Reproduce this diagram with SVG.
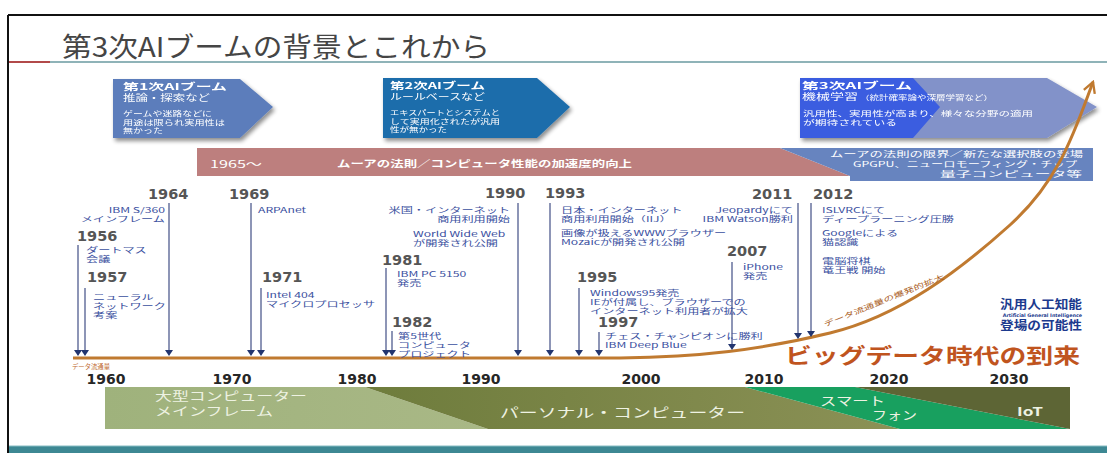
<svg xmlns="http://www.w3.org/2000/svg" width="1107" height="453" viewBox="0 0 1107 453">
<style>
.jp{font-family:"Noto Sans CJK JP","Noto Sans",sans-serif}
.wt{fill:#ffffff}
.ev{font-family:"Noto Sans CJK JP","Noto Sans",sans-serif;font-size:7.6px;fill:#3a4fa0}
.yr{font-family:"DejaVu Sans",sans-serif;font-weight:bold;font-size:14.5px;fill:#555555}
.ax{font-family:"DejaVu Sans",sans-serif;font-weight:bold;font-size:14px;fill:#262626;text-anchor:middle}
.vl{stroke:#8d95b6;stroke-width:2;fill:none;marker-end:url(#tri)}
.bt{font-family:"Noto Sans CJK JP","Noto Sans",sans-serif;fill:#eef2e2}
</style>
<defs>
<marker id="tri" viewBox="0 0 8 6" refX="4" refY="1" markerWidth="8" markerHeight="6" markerUnits="userSpaceOnUse" orient="0">
<path d="M0,0 L8,0 L4,6 Z" fill="#22356f"/>
</marker>
<marker id="oarr" viewBox="0 0 12 12" refX="10" refY="6" markerWidth="14" markerHeight="14" markerUnits="userSpaceOnUse" orient="auto">
<path d="M1,1 L10,6 L1,11" fill="none" stroke="#c07a30" stroke-width="2"/>
</marker>
<filter id="sh" x="-10%" y="-10%" width="130%" height="130%">
<feGaussianBlur in="SourceAlpha" stdDeviation="2"/>
<feOffset dx="2" dy="3"/>
<feComponentTransfer><feFuncA type="linear" slope="0.45"/></feComponentTransfer>
<feMerge><feMergeNode/><feMergeNode in="SourceGraphic"/></feMerge>
</filter>
<linearGradient id="pcg" x1="0" x2="1" y1="0" y2="0">
<stop offset="0" stop-color="#6e7c3c"/>
<stop offset="1" stop-color="#8b9156"/>
</linearGradient>
<linearGradient id="mfg" x1="0" x2="1" y1="0" y2="0">
<stop offset="0" stop-color="#9fb27c"/>
<stop offset="1" stop-color="#a9b886"/>
</linearGradient>
</defs>

<rect width="1107" height="453" fill="#ffffff"/>

<g id="frame">
<line x1="8" y1="15" x2="1107" y2="15" stroke="#111" stroke-width="2"/>
<line x1="8" y1="15" x2="8" y2="453" stroke="#111" stroke-width="2"/>
<line x1="9" y1="62" x2="50" y2="62" stroke="#b24a4a" stroke-width="2"/>
<line x1="50" y1="62" x2="1107" y2="62" stroke="#8fb3b8" stroke-width="2"/>
<rect x="9" y="446" width="1098" height="7" fill="#3d8893"/>
<line x1="9" y1="446" x2="1107" y2="446" stroke="#86bcc3" stroke-width="1"/>
</g>

<g id="title">
<text class="jp" x="62" y="57" font-size="27" fill="#454545" textLength="428" lengthAdjust="spacingAndGlyphs">第3次AIブームの背景とこれから</text>
</g>

<g id="boom1" filter="url(#sh)">
<polygon points="113,79 240,79 273,107 240,138 113,138" fill="#5b7dbb"/>
<text class="jp wt" x="123" y="90" font-size="9.5" font-weight="bold" textLength="104" lengthAdjust="spacingAndGlyphs">第1次AIブーム</text>
<text class="jp wt" x="123" y="101" font-size="9" textLength="87" lengthAdjust="spacingAndGlyphs">推論・探索など</text>
<text class="jp wt" x="123" y="116" font-size="7" textLength="89" lengthAdjust="spacingAndGlyphs">ゲームや迷路などに</text>
<text class="jp wt" x="123" y="124.5" font-size="7" textLength="102" lengthAdjust="spacingAndGlyphs">用途は限られ実用性は</text>
<text class="jp wt" x="123" y="133" font-size="7" textLength="40" lengthAdjust="spacingAndGlyphs">無かった</text>
</g>

<g id="boom2" filter="url(#sh)">
<polygon points="383,78 537,78 570,107 537,138 383,138" fill="#1f6dab"/>
<text class="jp wt" x="390" y="89" font-size="9.5" font-weight="bold" textLength="95" lengthAdjust="spacingAndGlyphs">第2次AIブーム</text>
<text class="jp wt" x="390" y="100" font-size="9" textLength="95" lengthAdjust="spacingAndGlyphs">ルールベースなど</text>
<text class="jp wt" x="390" y="115" font-size="7" textLength="110" lengthAdjust="spacingAndGlyphs">エキスパートとシステムと</text>
<text class="jp wt" x="390" y="123.5" font-size="7" textLength="110" lengthAdjust="spacingAndGlyphs">して実用化されたが汎用</text>
<text class="jp wt" x="390" y="132" font-size="7" textLength="57" lengthAdjust="spacingAndGlyphs">性が無かった</text>
</g>

<g id="boom3" filter="url(#sh)">
<polygon points="800,78 1047,78 1097,107 1047,138 800,138" fill="#8292c9"/>
<polygon points="800,78 913,78 940,107 913,138 800,138" fill="#3a5de0"/>
<text class="jp wt" x="802" y="89" font-size="9.5" font-weight="bold" textLength="110" lengthAdjust="spacingAndGlyphs">第3次AIブーム</text>
<text class="jp wt" x="802" y="100" font-size="9" textLength="56" lengthAdjust="spacingAndGlyphs">機械学習</text>
<text class="jp wt" x="860" y="99.5" font-size="6.5" textLength="133" lengthAdjust="spacingAndGlyphs">（統計確率論や深層学習など）</text>
<text class="jp wt" x="803" y="116" font-size="7" textLength="230" lengthAdjust="spacingAndGlyphs">汎用性、実用性が高まり、様々な分野の適用</text>
<text class="jp wt" x="803" y="124.5" font-size="7" textLength="94" lengthAdjust="spacingAndGlyphs">が期待されている</text>
</g>

<g id="moore">
<polygon points="197,148 780,148 850,176 197,176" fill="#bd7f7e"/>
<text class="jp wt" x="210" y="168" font-size="10" textLength="52" lengthAdjust="spacingAndGlyphs">1965〜</text>
<text class="jp wt" x="337" y="167" font-size="9.5" font-weight="bold" textLength="295" lengthAdjust="spacingAndGlyphs">ムーアの法則／コンピュータ性能の加速度的向上</text>
</g>

<g id="moore-limit">
<polygon points="780,148 1093,148 1093,181 850,181 850,176" fill="#6784bf"/>
<text class="jp wt" x="830" y="157" font-size="7.5" textLength="253" lengthAdjust="spacingAndGlyphs">ムーアの法則の限界／新たな選択肢の登場</text>
<text class="jp wt" x="853" y="167" font-size="7.5" textLength="224" lengthAdjust="spacingAndGlyphs">GPGPU、ニューロモーフィング・チップ</text>
<text class="jp wt" x="940" y="177" font-size="7.5" textLength="142" lengthAdjust="spacingAndGlyphs">量子コンピュータ等</text>
</g>

<g id="eras">
<polygon points="105,387 365,387 488,429 105,429" fill="url(#mfg)"/>
<polygon points="365,387 745,387 900,429 488,429" fill="url(#pcg)"/>
<polygon points="745,387 855,387 1070,429 900,429" fill="#18a05f"/>
<polygon points="855,387 1070,387 1070,429" fill="#5d6535"/>
<text class="bt" x="155" y="401" font-size="12" textLength="152" lengthAdjust="spacingAndGlyphs">大型コンピューター</text>
<text class="bt" x="155" y="416" font-size="12" textLength="118" lengthAdjust="spacingAndGlyphs">メインフレーム</text>
<text class="bt" x="500" y="417" font-size="13" textLength="245" lengthAdjust="spacingAndGlyphs">パーソナル・コンピューター</text>
<text class="bt" x="820" y="406" font-size="12" textLength="65" lengthAdjust="spacingAndGlyphs">スマート</text>
<text class="bt" x="872" y="420" font-size="12" textLength="45" lengthAdjust="spacingAndGlyphs">フォン</text>
<text class="bt" x="1017" y="416" font-size="12" font-weight="bold" textLength="26" lengthAdjust="spacingAndGlyphs">IoT</text>
</g>

<g id="connectors">
<path d="M 73 358 L 620 358 C 700 357, 760 350, 830 333 S 960 270, 1010 225 S 1075 130, 1093 82" fill="none" stroke="#c07a30" stroke-width="3" marker-end="url(#oarr)"/>
<line class="vl" x1="78" y1="245" x2="78" y2="351"/>
<line class="vl" x1="85" y1="288" x2="85" y2="351"/>
<line class="vl" x1="169" y1="203" x2="169" y2="351"/>
<line class="vl" x1="251" y1="203" x2="251" y2="351"/>
<line class="vl" x1="261" y1="288" x2="261" y2="351"/>
<line class="vl" x1="386" y1="268" x2="386" y2="351"/>
<line class="vl" x1="392" y1="331" x2="392" y2="351"/>
<line class="vl" x1="518" y1="203" x2="518" y2="351"/>
<line class="vl" x1="550" y1="203" x2="550" y2="351"/>
<line class="vl" x1="579" y1="288" x2="579" y2="351"/>
<line class="vl" x1="599" y1="332" x2="599" y2="351"/>
<line class="vl" x1="732" y1="262" x2="732" y2="345"/>
<line class="vl" x1="798" y1="203" x2="798" y2="334"/>
<line class="vl" x1="811" y1="203" x2="811" y2="332"/>
</g>

<g id="curve-labels">
<text class="jp" transform="translate(825,327) rotate(-22)" font-size="7" fill="#a85a20" textLength="129" lengthAdjust="spacingAndGlyphs">データ流通量の爆発的拡大</text>
<text class="jp" x="72" y="369" font-size="6.5" fill="#c06a30" textLength="38" lengthAdjust="spacingAndGlyphs">データ流通量</text>
<text class="jp" x="785" y="363" font-size="21" font-weight="bold" fill="#c0541e" textLength="295" lengthAdjust="spacingAndGlyphs">ビッグデータ時代の到来</text>
<text class="jp" x="1082" y="309" font-size="12" font-weight="bold" fill="#1c3a8e" text-anchor="end" textLength="82" lengthAdjust="spacingAndGlyphs">汎用人工知能</text>
<text font-family="DejaVu Sans,sans-serif" x="1082" y="317" font-size="4.8" font-weight="bold" fill="#1c3a8e" text-anchor="end">Artificial General Intelligence</text>
<text class="jp" x="1082" y="330" font-size="12" font-weight="bold" fill="#1c3a8e" text-anchor="end" textLength="82" lengthAdjust="spacingAndGlyphs">登場の可能性</text>
</g>

<g id="axis-years">
<text class="ax" x="106" y="384">1960</text>
<text class="ax" x="232" y="384">1970</text>
<text class="ax" x="357" y="384">1980</text>
<text class="ax" x="481" y="384">1990</text>
<text class="ax" x="641" y="384">2000</text>
<text class="ax" x="764" y="384">2010</text>
<text class="ax" x="889" y="384">2020</text>
<text class="ax" x="1009" y="384">2030</text>
</g>

<g id="ev1956"><text class="yr" x="77" y="241">1956</text>
<text class="ev" transform="translate(86,253) scale(1.6,1)"><tspan x="0" y="0">ダートマス</tspan><tspan x="0" y="8.8">会議</tspan></text></g>
<g id="ev1957"><text class="yr" x="87" y="282">1957</text>
<text class="ev" transform="translate(93,300) scale(1.6,1)"><tspan x="0" y="0">ニューラル</tspan><tspan x="0" y="8.8">ネットワーク</tspan><tspan x="0" y="17.6">考案</tspan></text></g>
<g id="ev1964"><text class="yr" x="148" y="199">1964</text>
<text class="ev" text-anchor="end" transform="translate(165,213) scale(1.6,1)"><tspan x="0" y="0">IBM S/360</tspan><tspan x="0" y="8.8">メインフレーム</tspan></text></g>
<g id="ev1969"><text class="yr" x="229" y="199">1969</text>
<text class="ev" transform="translate(258,213) scale(1.6,1)">ARPAnet</text></g>
<g id="ev1971"><text class="yr" x="262" y="282">1971</text>
<text class="ev" transform="translate(266,298) scale(1.6,1)"><tspan x="0" y="0">Intel 404</tspan><tspan x="0" y="8.8">マイクロプロセッサ</tspan></text></g>
<g id="ev1981"><text class="yr" x="382" y="265">1981</text>
<text class="ev" transform="translate(397,277) scale(1.6,1)"><tspan x="0" y="0">IBM PC 5150</tspan><tspan x="0" y="8.8">発売</tspan></text></g>
<g id="ev1982"><text class="yr" x="392" y="327">1982</text>
<text class="ev" transform="translate(398,339) scale(1.6,1)"><tspan x="0" y="0">第5世代</tspan><tspan x="0" y="8.8">コンピュータ</tspan><tspan x="0" y="17.6">プロジェクト</tspan></text></g>
<g id="ev1990"><text class="yr" x="485" y="198">1990</text>
<text class="ev" text-anchor="end" transform="translate(510,213) scale(1.6,1)"><tspan x="0" y="0">米国・インターネット</tspan><tspan x="0" y="8.8">商用利用開始</tspan></text>
<text class="ev" transform="translate(413,237) scale(1.6,1)"><tspan x="0" y="0">World Wide Web</tspan><tspan x="0" y="8.8">が開発され公開</tspan></text></g>
<g id="ev1993"><text class="yr" x="545" y="198">1993</text>
<text class="ev" transform="translate(561,213) scale(1.6,1)"><tspan x="0" y="0">日本・インターネット</tspan><tspan x="0" y="8.8">商用利用開始（IIJ）</tspan></text>
<text class="ev" transform="translate(561,236) scale(1.6,1)"><tspan x="0" y="0">画像が扱えるWWWブラウザー</tspan><tspan x="0" y="8.8">Mozaicが開発され公開</tspan></text></g>
<g id="ev1995"><text class="yr" x="577" y="282">1995</text>
<text class="ev" transform="translate(590,296) scale(1.6,1)"><tspan x="0" y="0">Windows95発売</tspan><tspan x="0" y="8.8">IEが付属し、ブラウザーでの</tspan><tspan x="0" y="17.6">インターネット利用者が拡大</tspan></text></g>
<g id="ev1997"><text class="yr" x="598" y="327">1997</text>
<text class="ev" transform="translate(605,339) scale(1.6,1)"><tspan x="0" y="0">チェス・チャンピオンに勝利</tspan><tspan x="0" y="8.8">IBM Deep Blue</tspan></text></g>
<g id="ev2007"><text class="yr" x="727" y="256">2007</text>
<text class="ev" transform="translate(743,270) scale(1.6,1)"><tspan x="0" y="0">iPhone</tspan><tspan x="0" y="8.8">発売</tspan></text></g>
<g id="ev2011"><text class="yr" x="752" y="199">2011</text>
<text class="ev" text-anchor="end" transform="translate(793,213) scale(1.6,1)"><tspan x="0" y="0">Jeopardyにて</tspan><tspan x="0" y="8.8">IBM Watson勝利</tspan></text></g>
<g id="ev2012"><text class="yr" x="813" y="199">2012</text>
<text class="ev" transform="translate(822,213) scale(1.6,1)"><tspan x="0" y="0">ISLVRCにて</tspan><tspan x="0" y="8.8">ディープラーニング圧勝</tspan></text>
<text class="ev" transform="translate(822,236) scale(1.6,1)"><tspan x="0" y="0">Googleによる</tspan><tspan x="0" y="8.8">猫認識</tspan></text>
<text class="ev" transform="translate(822,264) scale(1.6,1)"><tspan x="0" y="0">電脳将棋</tspan><tspan x="0" y="8.8">竜王戦 開始</tspan></text></g>
</svg>
